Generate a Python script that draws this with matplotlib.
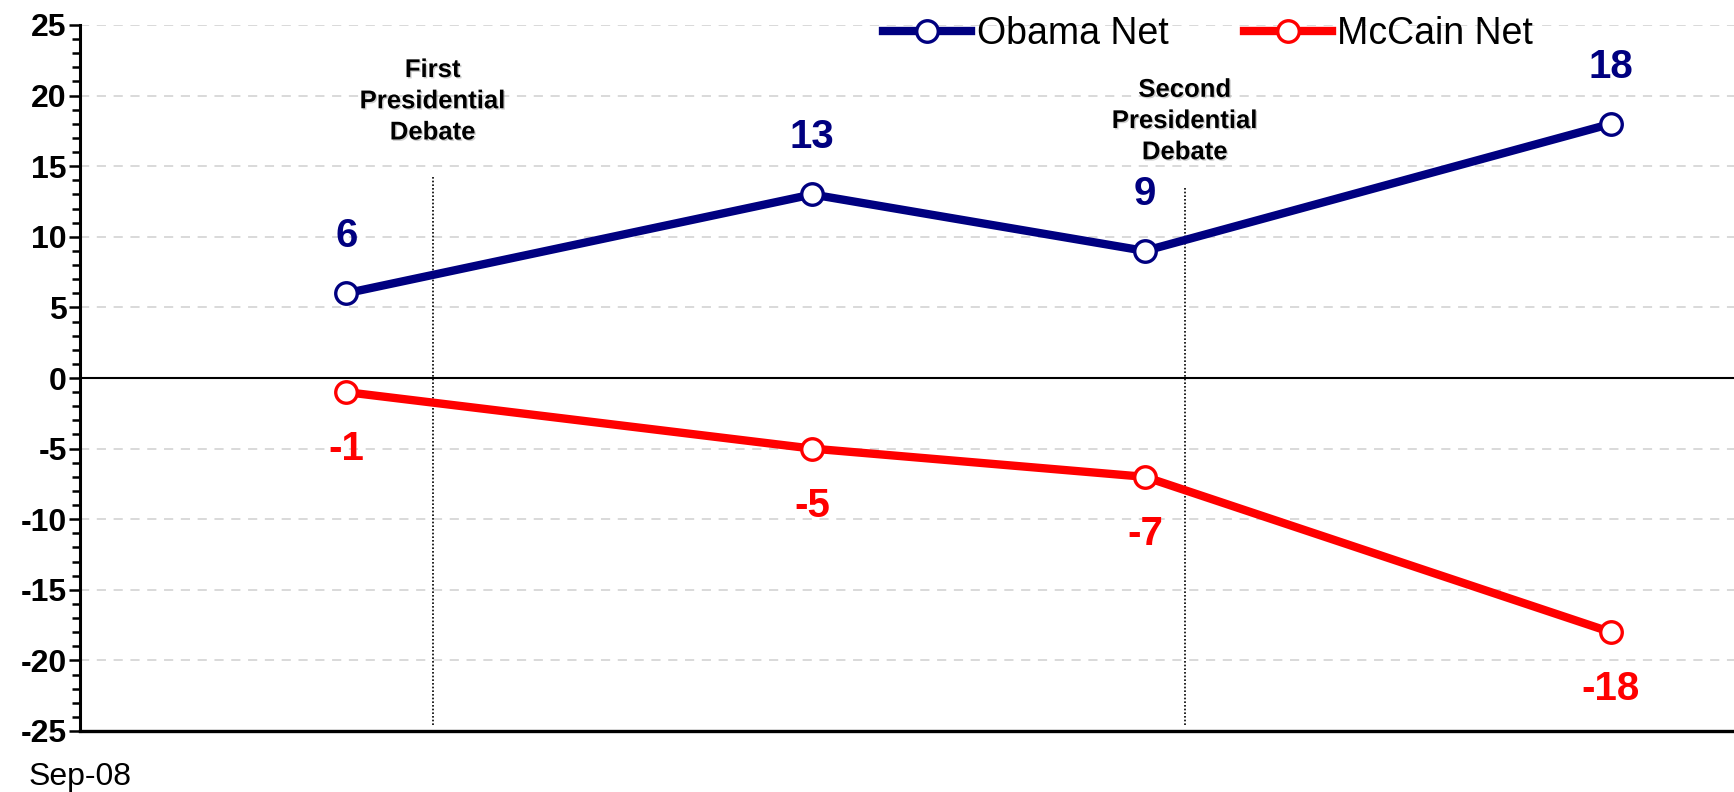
import matplotlib
matplotlib.use('Agg')
from matplotlib import pyplot as plt
from matplotlib.ticker import MultipleLocator
import matplotlib.patheffects as pe

plt.rcParams['font.family'] = ['Liberation Sans', 'DejaVu Sans']
plt.rcParams['axes.unicode_minus'] = False

# days after start of Sep-08 (x axis)
days = [8, 22, 32, 46]
obama_net = [6, 13, 9, 18]
mccain_net = [-1, -5, -7, -18]
debate_days = [10.6, 33.2]
debate_tops = [14.4, 13.5]
debate_labels = ['First\nPresidential\nDebate', 'Second\nPresidential\nDebate']
debate_label_y = [19.6, 18.2]
x_tick_label = 'Sep-08'

navy = '#000080'
red = '#FF0000'

fig = plt.figure(figsize=(17.34, 7.92), dpi=100)
ax = fig.add_axes([80 / 1734, 1 - 731 / 792, 1 - 80 / 1734, (731 - 25) / 792])

ax.set_xlim(0, 49.7)
ax.set_ylim(-25, 25)

# grid
for y in range(-20, 26, 5):
    ax.axhline(y, color='#d0d0d0', lw=1.1, linestyle=(0, (6, 5)), zorder=0)
ax.axhline(0, color='black', lw=1.5, zorder=1)

# debate markers
for d, top, lab, ly in zip(debate_days, debate_tops, debate_labels, debate_label_y):
    ax.vlines(d, -24.6, top, color='black', lw=1.2, linestyles=(0, (1, 1.2)), zorder=1)
    ax.text(d, ly, lab, ha='center', va='center', fontsize=18.5, fontweight='bold',
            linespacing=1.38,
            path_effects=[pe.withSimplePatchShadow(offset=(1, -1), shadow_rgbFace='#888888', alpha=0.4)])

ax.plot(days, obama_net, color=navy, lw=6, marker='o', markersize=15.5,
        markerfacecolor='white', markeredgecolor=navy, markeredgewidth=2.4,
        label='Obama Net', zorder=3)
ax.plot(days, mccain_net, color=red, lw=6, marker='o', markersize=15.5,
        markerfacecolor='white', markeredgecolor=red, markeredgewidth=2.4,
        label='McCain Net', zorder=3)

for x, v in zip(days, obama_net):
    ax.annotate(str(v), (x, v), xytext=(0, 41), textcoords='offset points',
                ha='center', va='center', fontsize=29, fontweight='bold', color=navy)
for x, v in zip(days, mccain_net):
    ax.annotate(str(v), (x, v), xytext=(0, -41), textcoords='offset points',
                ha='center', va='center', fontsize=29, fontweight='bold', color=red)

# axes styling
for s in ['top', 'right']:
    ax.spines[s].set_visible(False)
ax.spines['left'].set_linewidth(2.2)
ax.spines['bottom'].set_linewidth(2.4)

ax.yaxis.set_major_locator(MultipleLocator(5))
ax.yaxis.set_minor_locator(MultipleLocator(1))
ax.tick_params(axis='y', which='major', length=8, width=1.8, pad=1.5,
               labelsize=23)
ax.tick_params(axis='y', which='minor', length=5.5, width=1.8)
for lab in ax.get_yticklabels():
    lab.set_fontweight('bold')

ax.set_xticks([0])
ax.set_xticklabels([x_tick_label])
ax.tick_params(axis='x', length=0, pad=22, labelsize=23)

leg = ax.legend(loc='center left', bbox_to_anchor=(883 / 1734, 1 - 34 / 792),
                bbox_transform=fig.transFigure, ncol=2, frameon=False,
                fontsize=27, handlelength=2.35, handletextpad=0.15,
                columnspacing=2.0, borderpad=0, borderaxespad=0)

fig.savefig('out.png', dpi=100)
